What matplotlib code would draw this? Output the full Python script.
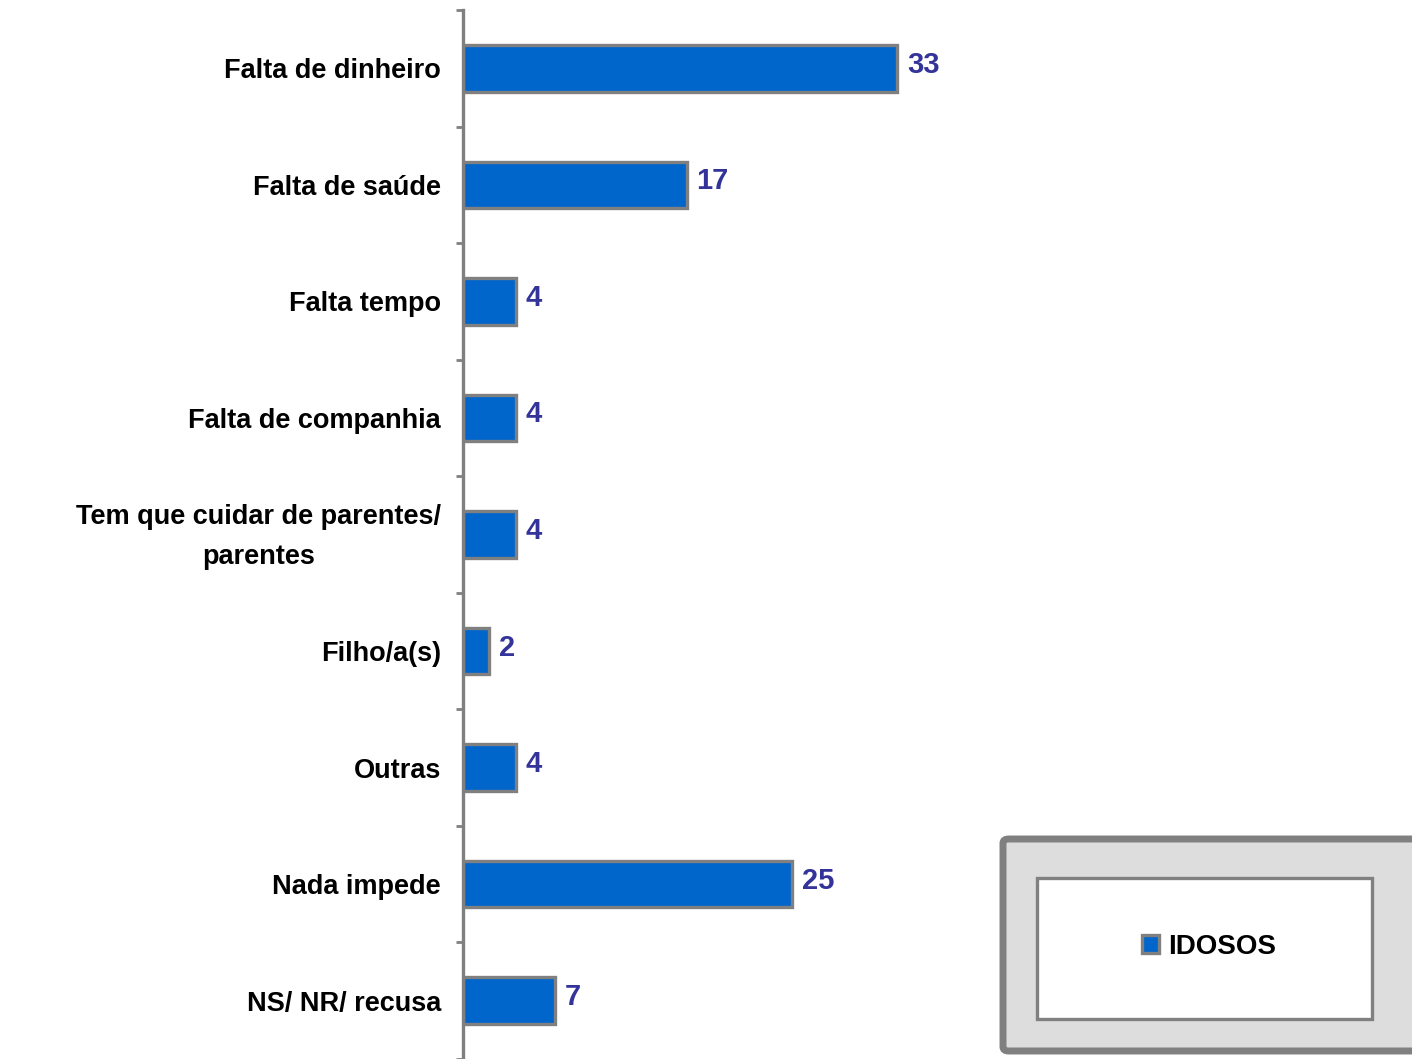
import matplotlib
matplotlib.use("Agg")
import matplotlib.pyplot as plt
import matplotlib.transforms as mtransforms
from matplotlib.patches import Rectangle, FancyBboxPatch

categories = [
    "Falta de dinheiro",
    "Falta de saúde",
    "Falta tempo",
    "Falta de companhia",
    "Tem que cuidar de parentes/\nparentes",
    "Filho/a(s)",
    "Outras",
    "Nada impede",
    "NS/ NR/ recusa",
]
values = [33, 17, 4, 4, 4, 2, 4, 25, 7]
series_name = "IDOSOS"

W, H = 1412, 1059
fig = plt.figure(figsize=(W / 100, H / 100), dpi=100)
fig.patch.set_facecolor("white")

# plot area: value axis starts at the vertical spine
left, right = 463 / W, 1.0
top, bottom = 1 - 10 / H, 0.0
ax = fig.add_axes([left, bottom, right - left, top - bottom])
ax.patch.set_visible(False)

bar_color = "#0066CC"
edge_color = "#808080"
label_color = "#333399"

y = list(range(len(categories)))
bars = ax.barh(y, values, height=0.4, color=bar_color, edgecolor=edge_color,
               linewidth=2.4, label=series_name, zorder=3)

ax.set_ylim(len(categories) - 0.5, -0.5)
ax.set_xlim(0, (W - 463) / 13.15)

for spine in ["top", "right", "bottom"]:
    ax.spines[spine].set_visible(False)
ax.spines["left"].set_color(edge_color)
ax.spines["left"].set_linewidth(2.4)
ax.spines["left"].set_zorder(4)

ax.set_xticks([])
# tick marks sit on category boundaries; labels sit at category centres
ax.set_yticks([i - 0.5 for i in range(len(categories) + 1)])
ax.set_yticklabels([])
ax.tick_params(axis="y", which="major", length=5, width=2.0, color=edge_color,
               direction="out")
ax.set_yticks(y, minor=True)
ax.set_yticklabels(categories, minor=True, fontsize=19.5, fontweight="bold",
                   family="Liberation Sans", linespacing=1.7)
ax.tick_params(axis="y", which="minor", length=0, pad=16)
nudge_up = mtransforms.ScaledTranslation(0, 7 / 100, fig.dpi_scale_trans)
for lab in ax.get_yticklabels(minor=True):
    lab.set_horizontalalignment("right")
    lab.set_multialignment("center")
    if "\n" in lab.get_text():
        lab.set_transform(lab.get_transform() + nudge_up)

for bar, v in zip(bars, values):
    ax.text(bar.get_width() + 0.75, bar.get_y() + bar.get_height() / 2 - 0.03,
            f"{v}", va="center", ha="left", color=label_color,
            fontsize=21, fontweight="bold", family="Liberation Sans")

# legend panel: grey outer frame with a white inner box
outer = FancyBboxPatch((1003 / W, 1 - 1051 / H), (W + 10 - 1003) / W, (1051 - 839) / H,
                       boxstyle="round,pad=0,rounding_size=0.004",
                       transform=fig.transFigure, facecolor="#DDDDDD",
                       edgecolor=edge_color, linewidth=5, zorder=1, clip_on=False)
fig.patches.append(outer)
inner = Rectangle((1037 / W, 1 - 1019 / H), (1372 - 1037) / W, (1019 - 878) / H,
                  transform=fig.transFigure, facecolor="white",
                  edgecolor=edge_color, linewidth=2.4, zorder=2)
fig.patches.append(inner)

leg = fig.legend(handles=[bars], labels=[series_name], loc="center",
                 bbox_to_anchor=(1209 / W, 1 - 947 / H),
                 bbox_transform=fig.transFigure, frameon=False,
                 prop={"family": "Liberation Sans", "size": 20, "weight": "bold"},
                 handlelength=0.62, handleheight=0.62, handletextpad=0.35)
leg.set_zorder(5)

fig.savefig("out.png", dpi=100)
